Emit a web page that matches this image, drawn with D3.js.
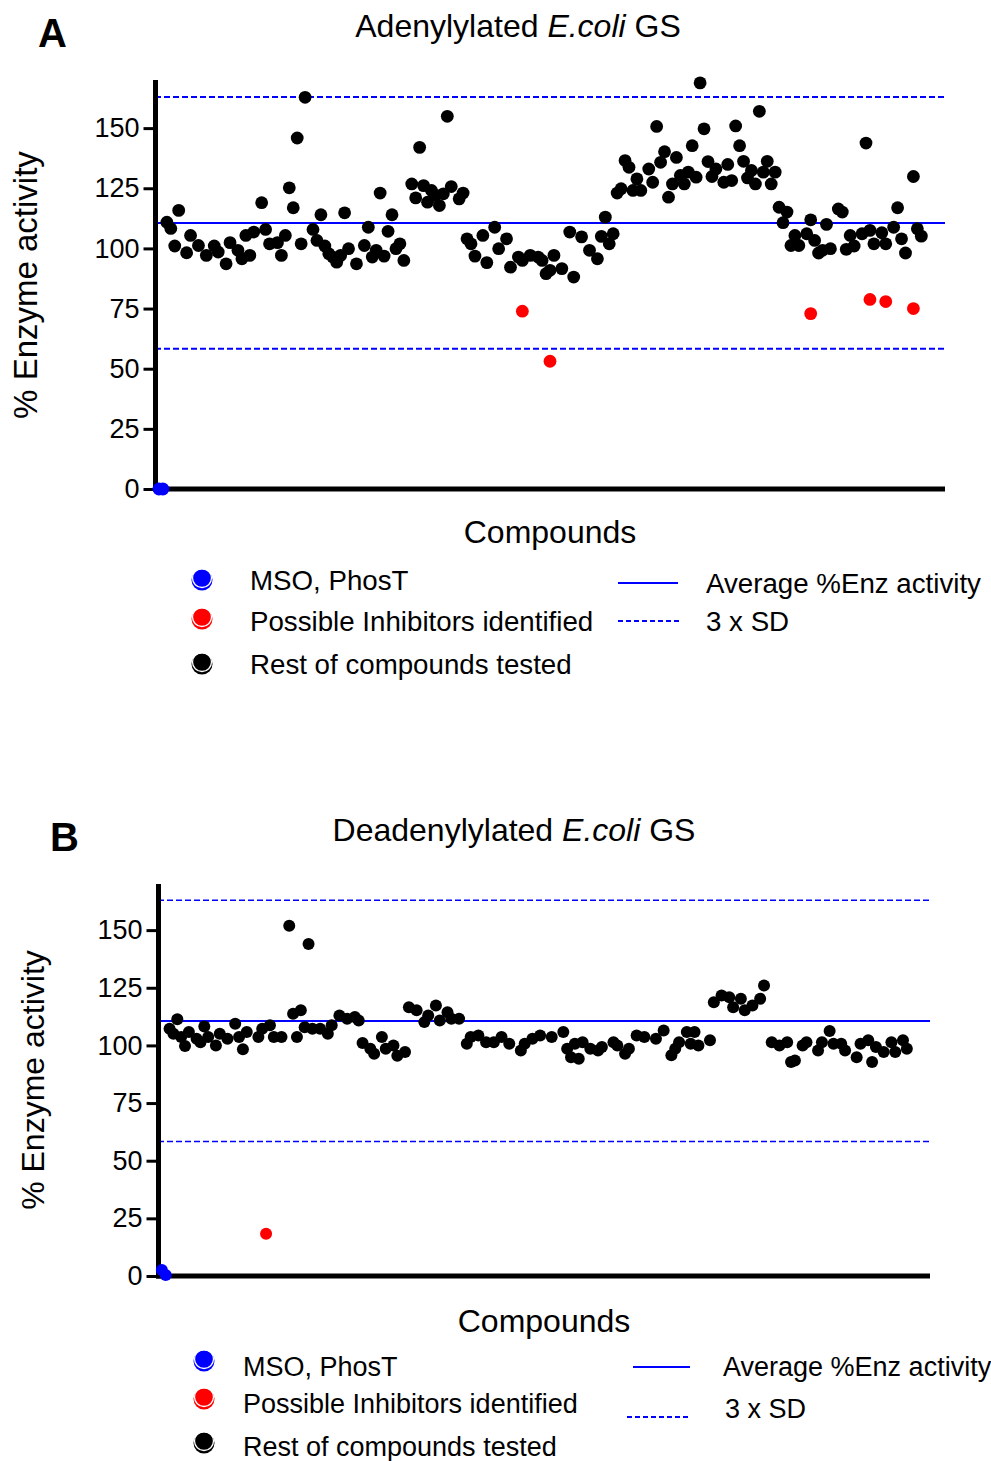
<!DOCTYPE html>
<html>
<head>
<meta charset="utf-8">
<script src="https://cdn.jsdelivr.net/npm/d3@7"></script>
<style>
  html, body { margin: 0; padding: 0; background: #fff; }
  svg { display: block; font-family: "Liberation Sans", Arial, sans-serif; }
</style>
</head>
<body>
<svg id="chart" width="991" height="1461"></svg>
<script>
// ---- Data: [compound number, % enzyme activity] ----
const yTicks = [0, 25, 50, 75, 100, 125, 150];
const avgActivity = 110.6;
const threeSD = 52.3;

// Adenylylated GS screen
const adenControls = [[1, 0], [2, 0]];
const adenHits = [[93, 73.9], [100, 53.1], [166, 72.9], [181, 78.8], [185, 77.9], [192, 75.0]];
const adenRest = [
  [3, 110.9], [4, 108.3], [5, 101.0], [6, 115.8], [8, 98.2], [9, 105.4], [11, 101.2], [13, 97.1],
  [15, 101.0], [16, 98.5], [18, 93.6], [19, 102.4], [21, 99.2], [22, 95.7], [23, 105.4], [24, 97.1],
  [25, 106.8], [27, 119.0], [28, 107.9], [29, 101.9], [31, 102.4], [32, 97.1], [33, 105.4], [34, 125.2],
  [35, 116.9], [36, 145.9], [37, 101.9], [38, 162.8], [40, 107.9], [41, 103.3], [42, 114.0], [43, 101.0],
  [44, 97.8], [45, 96.4], [46, 94.3], [47, 97.1], [48, 114.8], [49, 99.9], [51, 93.6], [53, 101.2],
  [54, 108.8], [55, 96.4], [56, 99.2], [57, 123.0], [58, 96.8], [59, 107.1], [60, 114.0], [61, 99.9],
  [62, 101.9], [63, 95.0], [65, 126.8], [66, 121.0], [67, 142.0], [68, 126.1], [69, 119.2], [70, 124.1],
  [71, 122.0], [72, 117.8], [73, 122.7], [74, 154.9], [75, 125.7], [77, 120.6], [78, 123.0], [79, 104.0],
  [80, 101.9], [81, 96.8], [83, 105.4], [84, 94.1], [86, 108.8], [87, 99.9], [89, 104.0], [90, 92.2],
  [92, 96.4], [93, 95.0], [95, 97.1], [97, 96.4], [98, 95.0], [99, 89.5], [100, 90.9], [101, 97.1],
  [103, 91.6], [105, 106.8], [106, 88.1], [108, 104.8], [110, 99.2], [112, 95.7], [113, 105.0], [114, 113.0],
  [115, 101.9], [116, 106.1], [117, 123.0], [118, 124.8], [119, 136.5], [120, 133.7], [121, 124.1], [122, 128.9],
  [123, 124.1], [125, 133.0], [126, 127.5], [127, 150.7], [128, 135.8], [129, 140.2], [130, 121.3], [131, 126.8],
  [132, 137.8], [133, 130.3], [134, 126.8], [135, 131.7], [136, 142.7], [137, 129.6], [138, 168.8], [139, 149.7],
  [140, 136.1], [141, 129.9], [142, 133.0], [144, 127.5], [145, 134.9], [146, 128.2], [147, 150.9], [148, 142.7],
  [149, 136.2], [150, 129.3], [151, 132.4], [152, 126.8], [153, 157.0], [154, 131.7], [155, 136.2], [156, 126.8],
  [157, 131.7], [158, 117.1], [159, 110.7], [160, 115.1], [161, 101.2], [162, 105.4], [163, 101.2], [165, 106.1],
  [166, 111.9], [167, 103.3], [168, 98.1], [169, 99.2], [170, 110.0], [171, 99.9], [173, 116.4], [174, 115.1],
  [175, 99.6], [176, 105.4], [177, 101.0], [179, 106.1], [180, 143.8], [181, 107.5], [182, 101.9], [184, 106.5],
  [185, 101.9], [187, 108.8], [188, 116.9], [189, 104.0], [190, 98.1], [192, 129.9], [193, 108.2], [194, 105.1]
];

// Deadenylylated GS screen
const deadenControls = [[1, 2.6], [2, 0.4]];
const deadenHits = [[28, 18.3]];
const deadenRest = [
  [3, 107.2], [4, 105.1], [5, 111.3], [6, 103.6], [7, 99.7], [8, 105.8], [10, 102.9], [11, 101.4],
  [12, 108.2], [13, 103.6], [15, 100.0], [16, 105.1], [18, 102.9], [20, 109.4], [21, 103.6], [22, 98.3],
  [23, 105.8], [26, 103.6], [27, 107.2], [29, 108.7], [30, 103.6], [32, 103.6], [34, 151.9], [35, 113.7],
  [36, 103.6], [37, 115.2], [38, 107.9], [39, 144.0], [40, 107.2], [42, 107.2], [44, 105.1], [45, 108.7],
  [47, 113.0], [49, 111.6], [51, 112.3], [52, 110.8], [53, 101.0], [55, 98.6], [56, 96.4], [58, 103.6],
  [59, 98.6], [61, 100.0], [62, 95.5], [64, 97.1], [65, 116.6], [67, 115.2], [69, 110.1], [70, 113.0],
  [72, 117.3], [73, 110.8], [75, 114.4], [76, 111.6], [78, 111.6], [80, 100.7], [81, 103.6], [83, 104.3],
  [85, 101.4], [87, 101.4], [89, 103.6], [91, 100.7], [94, 97.8], [95, 100.7], [97, 102.9], [99, 104.3],
  [102, 103.6], [105, 105.8], [106, 98.6], [107, 94.9], [108, 100.7], [109, 94.2], [110, 101.4], [112, 98.6],
  [114, 97.8], [115, 99.3], [118, 101.4], [119, 100.0], [121, 96.4], [122, 98.6], [124, 104.3], [126, 103.6],
  [129, 102.9], [131, 106.5], [133, 95.7], [134, 98.6], [135, 101.4], [137, 105.8], [138, 100.7], [139, 105.8],
  [140, 100.0], [143, 102.2], [144, 118.7], [146, 121.6], [148, 120.9], [149, 116.6], [151, 120.2], [152, 115.2],
  [154, 117.3], [156, 120.2], [157, 126.0], [159, 101.4], [161, 100.0], [163, 101.4], [164, 92.8], [165, 93.5],
  [167, 100.0], [168, 101.4], [171, 97.8], [172, 101.4], [174, 106.2], [175, 100.7], [177, 100.7], [178, 97.8],
  [181, 94.9], [182, 100.7], [184, 102.2], [185, 92.8], [186, 99.3], [188, 97.1], [190, 101.4], [191, 97.1],
  [193, 102.2], [194, 98.6]
];

const pointLegend = ["MSO, PhosT", "Possible Inhibitors identified", "Rest of compounds tested"];
const pointColors = ["#0000ff", "#ff0000", "#000000"];
const lineLegend = ["Average %Enz activity", "3 x SD"];
const BLUE = "#0000ff";

const svg = d3.select("#chart");
const FONT = "'Liberation Sans', Arial, sans-serif";

function drawPanel(cfg) {
  const g = svg.append("g");
  const x = d3.scaleLinear().domain([0, 200]).range([cfg.left, cfg.right]);
  const y = d3.scaleLinear().domain([0, 170]).range([cfg.bottom, cfg.top]);

  // panel letter
  g.append("text").attr("x", cfg.letter[1]).attr("y", cfg.letter[2])
    .attr("font-size", 40).attr("font-weight", "bold").text(cfg.letter[0]);

  // title with italic species name
  const t = g.append("text").attr("x", cfg.titleX).attr("y", cfg.titleY)
    .attr("text-anchor", "middle").attr("font-size", 32);
  t.append("tspan").text(cfg.title[0]);
  t.append("tspan").attr("font-style", "italic").text(cfg.title[1]);
  t.append("tspan").text(cfg.title[2]);

  // reference lines: mean and mean ± 3 SD
  const refs = [
    { v: avgActivity, dash: null, w: 2 },
    { v: avgActivity + threeSD, dash: "6,3", w: cfg.dashW },
    { v: avgActivity - threeSD, dash: "6,3", w: cfg.dashW }
  ];
  g.selectAll("line.ref").data(refs).enter().append("line")
    .attr("x1", cfg.left).attr("x2", cfg.right)
    .attr("y1", d => y(d.v)).attr("y2", d => y(d.v))
    .attr("stroke", BLUE).attr("stroke-width", d => d.w)
    .attr("stroke-dasharray", d => d.dash);

  // y axis
  const yAxis = d3.axisLeft(y).tickValues(yTicks).tickSize(12).tickPadding(4);
  const ya = g.append("g").attr("transform", `translate(${cfg.left + 0.5},0)`).call(yAxis);
  ya.select(".domain").attr("d", `M0,${cfg.top}V${cfg.bottom + 2.5}`)
    .attr("stroke", "#000").attr("stroke-width", 5);
  ya.selectAll(".tick line").attr("stroke", "#000").attr("stroke-width", 3);
  ya.selectAll(".tick text").attr("font-size", 27).attr("font-family", FONT).attr("fill", "#000");

  // x axis (no ticks)
  g.append("line").attr("x1", cfg.left - 2).attr("x2", cfg.right)
    .attr("y1", cfg.bottom).attr("y2", cfg.bottom)
    .attr("stroke", "#000").attr("stroke-width", 5);

  // axis titles
  g.append("text").attr("x", (cfg.left + cfg.right) / 2).attr("y", cfg.xLabelY)
    .attr("text-anchor", "middle").attr("font-size", 32).text("Compounds");
  g.append("text")
    .attr("transform", `translate(${cfg.yLabelX},${cfg.yLabelY}) rotate(-90)`)
    .attr("text-anchor", "middle").attr("font-size", cfg.yLabelSize).text("% Enzyme activity");

  // data points
  const groups = [
    { data: cfg.rest, color: pointColors[2] },
    { data: cfg.hits, color: pointColors[1] },
    { data: cfg.controls, color: pointColors[0] }
  ];
  groups.forEach(grp => {
    g.append("g").selectAll("circle").data(grp.data).enter().append("circle")
      .attr("cx", d => x(d[0])).attr("cy", d => y(d[1]))
      .attr("r", cfg.r).attr("fill", grp.color);
  });

  // legend: point symbols
  const lg = g.append("g");
  pointLegend.forEach((label, i) => {
    const cy = cfg.legend.markY[i];
    lg.append("circle").attr("cx", cfg.legend.markX).attr("cy", cy).attr("r", 10.5)
      .attr("fill", pointColors[i]);
    lg.append("circle").attr("cx", cfg.legend.markX).attr("cy", cy - 2).attr("r", 9.5)
      .attr("fill", "none").attr("stroke", "#fff").attr("stroke-width", 1.3);
    lg.append("text").attr("x", cfg.legend.textX).attr("y", cfg.legend.textY[i])
      .attr("dy", "0.35em").attr("font-size", cfg.legend.size).text(label);
  });
  // legend: line styles
  lineLegend.forEach((label, i) => {
    const l = cfg.legend.lines[i];
    lg.append("line").attr("x1", l[0]).attr("x2", l[1]).attr("y1", l[2]).attr("y2", l[2])
      .attr("stroke", BLUE).attr("stroke-width", 2)
      .attr("stroke-dasharray", i === 1 ? "5,3" : null);
    lg.append("text").attr("x", cfg.legend.lineText[i][0]).attr("y", cfg.legend.lineText[i][1])
      .attr("dy", "0.35em").attr("font-size", cfg.legend.size).text(label);
  });
}

drawPanel({
  letter: ["A", 38, 47], title: ["Adenylylated ", "E.coli", " GS"], titleX: 518, titleY: 37,
  left: 155, right: 945, top: 80, bottom: 489, r: 6.4, dashW: 2,
  xLabelY: 543, yLabelX: 37, yLabelY: 285, yLabelSize: 33,
  controls: adenControls, hits: adenHits, rest: adenRest,
  legend: {
    size: 27.7,
    markX: 202, markY: [580, 619, 664], textX: 250, textY: [580, 621, 664],
    lines: [[618, 678, 583], [618, 680, 621]], lineText: [[706, 583], [706, 621]]
  }
});

drawPanel({
  letter: ["B", 50, 851], title: ["Deadenylylated ", "E.coli", " GS"], titleX: 514, titleY: 841,
  left: 158, right: 930, top: 884, bottom: 1276, r: 6, dashW: 1.5,
  xLabelY: 1332, yLabelX: 44, yLabelY: 1080, yLabelSize: 32,
  controls: deadenControls, hits: deadenHits, rest: deadenRest,
  legend: {
    size: 27,
    markX: 204, markY: [1361, 1399, 1443], textX: 243, textY: [1367, 1404, 1447],
    lines: [[633, 690, 1367], [627, 690, 1417]], lineText: [[723, 1367], [725, 1409]]
  }
});
</script>
</body>
</html>
